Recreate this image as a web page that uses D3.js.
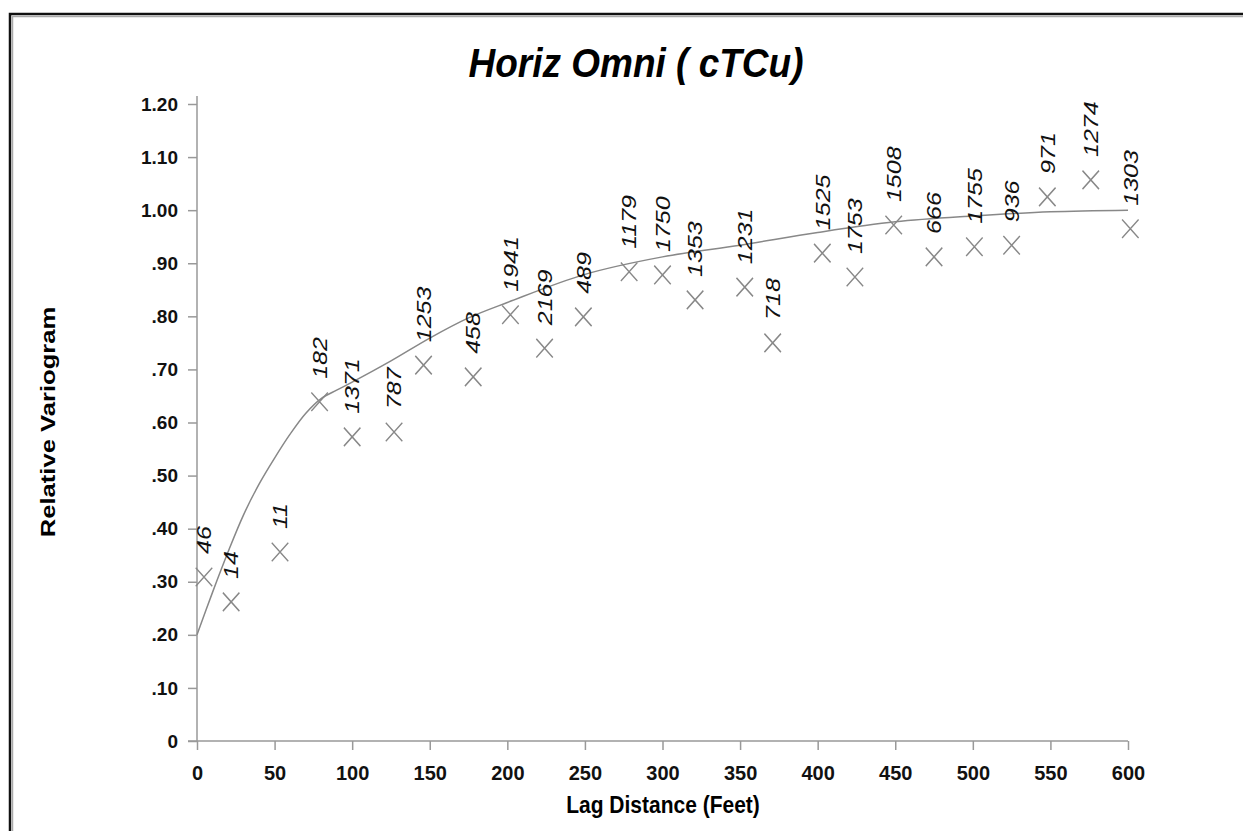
<!DOCTYPE html>
<html>
<head>
<meta charset="utf-8">
<script src="https://cdn.jsdelivr.net/npm/d3@7"></script>
<style>
  body { margin: 0; background: #fff; }
  text { font-family: "Liberation Sans", Arial, sans-serif; }
</style>
</head>
<body>
<script>
// experimental variogram points (lag in feet, relative variogram, pair count)
const lags = [4.5, 22, 53.5, 79, 100, 127, 146, 178, 202, 224, 249, 278.5, 300, 321, 353, 371, 403, 424, 449, 475, 501, 525, 548, 576, 601.5]
const gammas = [0.309, 0.262, 0.356, 0.639, 0.573, 0.582, 0.708, 0.686, 0.803, 0.740, 0.799, 0.884, 0.878, 0.831, 0.855, 0.750, 0.919, 0.874, 0.972, 0.912, 0.931, 0.934, 1.025, 1.057, 0.965]
const pairs = [46, 14, 11, 182, 1371, 787, 1253, 458, 1941, 2169, 489, 1179, 1750, 1353, 1231, 718, 1525, 1753, 1508, 666, 1755, 936, 971, 1274, 1303]

// fitted model
const modelLags = [0, 10, 20, 30, 40, 50, 60, 70, 80, 90, 100, 125, 150, 175, 200, 250, 300, 350, 400, 450, 500, 550, 600]
const modelGammas = [0.20, 0.28, 0.356, 0.426, 0.484, 0.533, 0.578, 0.617, 0.645, 0.661, 0.676, 0.716, 0.759, 0.797, 0.826, 0.879, 0.912, 0.934, 0.958, 0.978, 0.989, 0.997, 1.0]

const xTicks = [0, 50, 100, 150, 200, 250, 300, 350, 400, 450, 500, 550, 600]
const yTicks = [0, 0.1, 0.2, 0.3, 0.4, 0.5, 0.6, 0.7, 0.8, 0.9, 1.0, 1.1, 1.2]
const yTickLabels = ['0', '.10', '.20', '.30', '.40', '.50', '.60', '.70', '.80', '.90', '1.00', '1.10', '1.20']

const width = 1243
const height = 831

const svg = d3.select('body')
  .append('svg')
  .attr('width', width)
  .attr('height', height)

// frame
svg.append('path')
  .attr('d', `M${width},14 H10 V${height}`)
  .attr('fill', 'none')
  .attr('stroke', '#111')
  .attr('stroke-width', 2.5)
svg.append('path')
  .attr('d', `M${width},16.5 H12.5 V${height}`)
  .attr('fill', 'none')
  .attr('stroke', '#aaa')
  .attr('stroke-width', 1.5)

const x = d3.scaleLinear().domain([0, 600]).range([197, 1128])
const y = d3.scaleLinear().domain([0, 1.2]).range([741, 104])

svg.append('text')
  .attr('transform', 'translate(636,77) scale(1,1.08)')
  .attr('text-anchor', 'middle')
  .style('font-size', '37px')
  .style('font-weight', 'bold')
  .style('font-style', 'italic')
  .text('Horiz Omni ( cTCu)')

// axes
const xAxis = svg.append('g')
  .attr('transform', `translate(0,${y(0)})`)
  .call(d3.axisBottom(x).tickValues(xTicks).tickSize(9).tickSizeOuter(0).tickPadding(16))
xAxis.select('.domain').attr('d', `M188,0H${x(600)}`)

const yAxis = svg.append('g')
  .attr('transform', `translate(${x(0)},0)`)
  .call(d3.axisLeft(y).tickValues(yTicks).tickSize(9).tickSizeOuter(0).tickPadding(10)
    .tickFormat((d, i) => yTickLabels[i]))
yAxis.select('.domain').attr('d', `M0,${y(1.2) - 8}V${y(0)}`)

svg.selectAll('.domain, .tick line').attr('stroke', '#999').attr('stroke-width', 1.5)
svg.selectAll('.tick text')
  .attr('fill', '#111')
  .style('font-weight', 'bold')
  .style('font-family', '"Liberation Sans", Arial, sans-serif')
xAxis.selectAll('.tick text').style('font-size', '20px')
yAxis.selectAll('.tick text').style('font-size', '19px')

svg.append('text')
  .attr('transform', 'translate(663,813) scale(1,1.1)')
  .attr('text-anchor', 'middle')
  .style('font-size', '21px')
  .style('font-weight', 'bold')
  .text('Lag Distance (Feet)')

svg.append('text')
  .attr('transform', 'translate(55,422) rotate(-90) scale(1.28,1)')
  .attr('text-anchor', 'middle')
  .style('font-size', '20px')
  .style('font-weight', 'bold')
  .text('Relative Variogram')

// model curve
const model = modelLags.map((d, i) => ({lag: d, g: modelGammas[i]}))
const modelLine = d3.line()
  .x(d => x(d.lag))
  .y(d => y(d.g))
  .curve(d3.curveCatmullRom.alpha(0.5))

svg.append('path')
  .attr('d', modelLine(model))
  .attr('fill', 'none')
  .attr('stroke', '#888')
  .attr('stroke-width', 1.5)

// experimental points
const pts = lags.map((d, i) => ({lag: d, g: gammas[i], n: pairs[i]}))

svg.append('g').selectAll('path')
  .data(pts)
  .enter()
  .append('path')
  .attr('transform', d => `translate(${x(d.lag)},${y(d.g)}) scale(1,1.12)`)
  .attr('d', d3.symbol(d3.symbolTimes, 180))
  .attr('fill', 'none')
  .attr('stroke', '#888')
  .attr('stroke-width', 1.4)

svg.append('g').selectAll('text')
  .data(pts)
  .enter()
  .append('text')
  .attr('transform', d => `translate(${x(d.lag)},${y(d.g) - 23}) rotate(-90) scale(1.25,1)`)
  .attr('dy', '0.36em')
  .style('font-size', '20px')
  .style('font-style', 'italic')
  .attr('fill', '#111')
  .text(d => d.n)
</script>
</body>
</html>
